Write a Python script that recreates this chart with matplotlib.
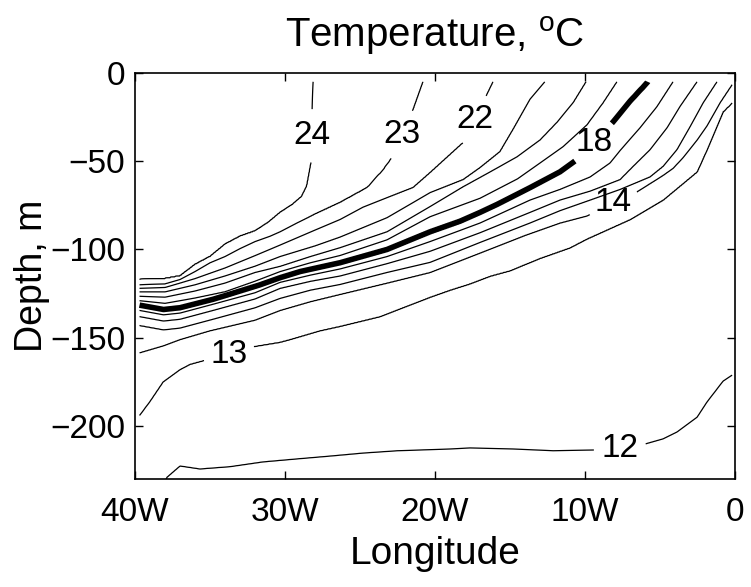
import matplotlib
matplotlib.use('Agg')
import matplotlib.pyplot as plt
import numpy as np

plt.rcParams['font.family'] = ['Liberation Sans', 'DejaVu Sans']
plt.rcParams['mathtext.fontset'] = 'custom'
plt.rcParams['mathtext.rm'] = 'Liberation Sans'

# isotherm depths (m) read off the section, longitude in degrees (negative = W)
# values above -5 m are virtual points that carry the line out through the surface
iso24_lon = [-39.7, -38, -37, -36, -35, -34, -33, -32, -31.13, -30.33, -29.53, -28.9, -28.55, -28.25, -28.2, -28.13, -27.0, 0.0]
iso24_dep = [-117, -116.5, -115, -108.5, -104, -97, -92.5, -89.5, -84.7, -79, -74.6, -70, -64, -50, -20, -5, 30, 840]

iso23_lon = [-39.7, -38, -37, -36, -35, -34, -33, -32, -31, -30.33, -29.2, -28, -26.33, -24.53, -23.47, -22.87, -22.2, -21.47, -20.8, -19.8, 0.0]
iso23_dep = [-120, -119.5, -117, -112.5, -107.5, -104, -99.5, -95.5, -92.5, -90, -85, -80, -73.4, -65, -55, -48, -35, -21, -5, 25, 620]

iso22_lon = [-39.7, -38, -36, -34, -32, -30.33, -28, -26.33, -24.8, -23, -21.47, -20.33, -18.13, -17.33, -16.53, -16.13, -15.13, 0.0]
iso22_dep = [-122, -121.5, -116.5, -110.5, -103.5, -97.5, -89, -83, -76, -70, -65, -56.5, -39.5, -26.5, -12, -5, 25, 479]

iso21_lon = [-39.7, -38, -36, -34, -32, -30.33, -28, -26.33, -23.2, -20.33, -18.13, -17, -15.67, -14.8, -13.67, -12.67, -11.67, 0.0]
iso21_dep = [-124, -124, -120, -115, -109.5, -104, -98, -93, -82, -67.8, -60.5, -53.7, -44.6, -32, -15, -5, 25, 375]

iso20_lon = [-39.7, -38, -36, -34, -32, -30.33, -28.3, -26.33, -23.2, -20.33, -18.13, -16.33, -14.53, -13, -11.87, -10.8, -9.93, -8.93, 0.0]
iso20_dep = [-126.5, -127, -123.5, -119, -113, -109.6, -104, -99, -90, -75.7, -64.4, -56, -47.5, -38, -28, -17, -5, 25, 293]

iso19_lon = [-39.7, -38, -36, -34, -32, -30.33, -28.3, -26.33, -23.2, -20.33, -17, -14.5, -13, -11.47, -9.87, -8.8, -7.87, -6.87, 0.0]
iso19_dep = [-129, -130.5, -127.5, -124, -118, -112.5, -107.5, -103.4, -94.5, -81.4, -71, -60, -51, -41.8, -29.4, -17, -5, 25, 231]

iso18_lon = [-39.7, -38.1, -37, -34.8, -31.67, -30.33, -29, -26.33, -23.2, -20.33, -18.33, -17, -15.87, -13.67, -11.67, -10.53, -9.3, -8.13, -7, -5.8, -4.8, 0.0]
iso18_dep = [-131.5, -134, -133, -128.2, -120, -116, -112.5, -107.5, -100, -90, -84, -79, -74.5, -65, -56, -49, -38.5, -27.7, -16, -5, 25, 169]

iso17_lon = [-39.7, -38.1, -37, -34.8, -32, -30.33, -28.3, -26.33, -23.2, -20.33, -17, -13.67, -11.67, -9.67, -8.33, -7.67, -6.33, -5.2, -4.13, -3.13, 0.0]
iso17_dep = [-134.5, -137, -136, -131, -124.5, -118.6, -114.5, -111, -104, -95.5, -85, -72, -66, -59, -51, -44, -31, -19, -5, 25, 119]

iso16_lon = [-39.7, -38.1, -37, -34.8, -32, -30.33, -28.3, -26.33, -23.2, -20.33, -17, -13.67, -11.67, -9.67, -7.67, -6.8, -5.67, -4.53, -3.67, -2.53, -1.53, 0.0]
iso16_dep = [-138, -140.5, -139.5, -134.5, -128, -122, -118, -115, -108, -101, -90.5, -79, -72, -67, -60.5, -53, -43.5, -31, -19, -5, 25, 71]

iso15_lon = [-39.7, -38.1, -37, -34.8, -32, -30.33, -28.3, -26.33, -23.2, -20.33, -17, -13.67, -11.67, -9.67, -7.67, -5.67, -4.8, -3.87, -3, -2.13, -1.2, -0.2, 0.0]
iso15_dep = [-143, -145.5, -144.5, -139.5, -133, -127.7, -123, -119.8, -113, -107.3, -96, -85, -78, -72, -66, -59, -53, -43.5, -30.5, -17, -5, 25, 31]

iso14_lon = [-39.7, -38.1, -37, -35, -32, -30.33, -28.3, -26.33, -23.2, -20.33, -17, -14, -11.67, -9.87, -8.13, -6.67, -4.8, -4.13, -3.47, -2.53, -1.87, -1, -0.2, 0.0]
iso14_dep = [-158.5, -154.5, -151, -146, -140, -134.5, -129.5, -125.4, -119, -113, -102, -92, -85, -81, -73.5, -68, -58, -54, -48, -38, -30, -17, -6.8, -3]

iso13_lon = [-39.7, -39, -38.13, -37, -36.33, -35.47, -34, -32.13, -30.33, -29.67, -27.67, -26.33, -23.67, -20.33, -19, -17.7, -16.3, -15, -13, -11, -9.87, -7, -4.8, -2.53, -1.87, -1.2, -0.8, -0.2, 0.0]
iso13_dep = [-194, -186, -175, -168, -165, -163, -160, -155, -152.5, -151, -146, -143.5, -138, -127, -123, -119.5, -115, -112, -105, -99, -94, -83, -72, -56, -43.5, -30, -22, -17, -15]

iso12_lon = [-39.7, -37.87, -37, -35.67, -33.67, -31.47, -29.2, -27, -24.8, -22.53, -19, -17.67, -14.8, -12.13, -9.47, -7.67, -6, -4.8, -3.87, -2.53, -1.87, -0.8, -0.2, 0.0]
iso12_dep = [-262, -229, -222.6, -224.3, -223, -220.3, -218.6, -217, -215.3, -214, -213, -212.4, -213, -214, -213.6, -213, -210.2, -207.3, -203.4, -195, -186.4, -174.6, -171.2, -170]

levels = [12, 13, 14, 15, 16, 17, 18, 19, 20, 21, 22, 23, 24]
label_pos = [(-28.25, -35.6), (-22.2, -35), (-17.33, -26.5), (-9.3, -40.5),
             (-8.13, -73.5), (-33.7, -160), (-7.67, -213)]

xticks = [-40, -30, -20, -10, 0]
xticklabels = ['40W', '30W', '20W', '10W', '0']
yticks = [0, -50, -100, -150, -200]

isotherms = [(iso12_lon, iso12_dep), (iso13_lon, iso13_dep), (iso14_lon, iso14_dep),
             (iso15_lon, iso15_dep), (iso16_lon, iso16_dep), (iso17_lon, iso17_dep),
             (iso18_lon, iso18_dep), (iso19_lon, iso19_dep), (iso20_lon, iso20_dep),
             (iso21_lon, iso21_dep), (iso22_lon, iso22_dep), (iso23_lon, iso23_dep),
             (iso24_lon, iso24_dep)]

# rebuild a temperature section from the isotherm depths
lon = np.linspace(-39.7, -0.2, 800)
dep = np.linspace(-236, -5, 463)
temp = np.zeros((len(dep), len(lon)))
for i, x in enumerate(lon):
    d = [np.interp(x, lo, de) for lo, de in isotherms]
    xp = [d[0] - 300] + d + [d[-1] + 300]
    fp = [9] + levels + [27]
    temp[:, i] = np.interp(dep, xp, fp)

fig = plt.figure(figsize=(7.51, 5.87), dpi=100)
ax = fig.add_axes([0.1798, 0.184, 0.799, 0.6917])

widths = [4.0 if lv == 18 else 0.9 for lv in levels]
cs = ax.contour(lon, dep, temp, levels=levels, colors='k', linewidths=widths)
labels = ax.clabel(cs, manual=label_pos, inline=True,
                   inline_spacing=8, fmt='%d', fontsize=24)
for t in labels:
    t.set_rotation(0)

ax.set_xlim(-40, 0)
ax.set_ylim(-230, 0)
ax.set_xticks(xticks)
ax.set_xticklabels(xticklabels)
ax.set_yticks(yticks)
ax.tick_params(direction='in', length=6, width=1, top=True, right=True,
               labelsize=24, pad=7)
ax.tick_params(axis='x', pad=13)
for s in ax.spines.values():
    s.set_linewidth(1.2)

ax.set_xlabel('Longitude', fontsize=28, labelpad=6)
ax.set_ylabel('Depth, m', fontsize=27, labelpad=0)
ax.set_title(r'Temperature, $^{\mathrm{o}}$C', fontsize=29, pad=19)

fig.savefig('out.png', dpi=100)
